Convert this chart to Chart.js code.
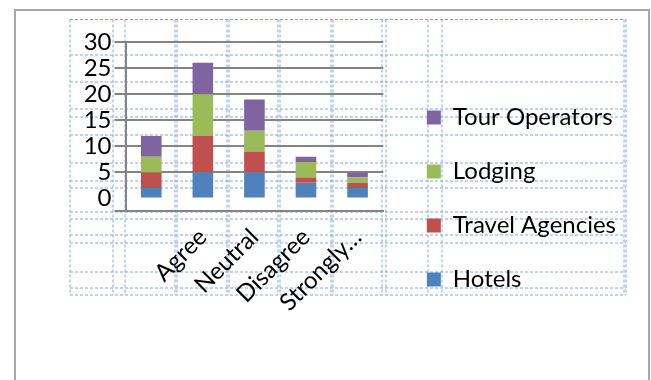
<!DOCTYPE html>
<html>
<head>
<meta charset="utf-8">
<script src="https://cdn.jsdelivr.net/npm/chart.js@4/dist/chart.umd.min.js"></script>
<style>
html,body{margin:0;padding:0;background:#fff;width:651px;height:380px;overflow:hidden;}
#wrap{position:relative;width:651px;height:380px;}
#frame{position:absolute;left:14px;top:9px;width:636px;height:380px;border:2px solid #a8a8a8;border-bottom:none;box-sizing:border-box;}
#table{position:absolute;left:0;top:0;}
#c{position:absolute;left:0;top:0;}
</style>
</head>
<body>
<div id="wrap">
  <div id="frame"></div>
  <svg id="table" width="651" height="380"></svg>
  <canvas id="c" width="651" height="380"></canvas>
</div>
<script>
// ---- data ----
const categories = ['Strongly Agree', 'Agree', 'Neutral', 'Disagree', 'Strongly Disagree'];
const tickLabels = ['', 'Agree', 'Neutral', 'Disagree', 'Strongly\u2026'];
const hotels = [2, 5, 5, 3, 2];
const travelAgencies = [3, 7, 4, 1, 1];
const lodging = [3, 8, 4, 3, 1];
const tourOperators = [4, 6, 6, 1, 1];
const yTickValues = [0, 5, 10, 15, 20, 25, 30];

// ---- decorative document table gridlines (not chart data) ----
const tableRows = [19.5, 55, 82, 109, 117, 135, 163, 181, 188, 212, 219, 235, 243, 272, 288, 295];
const tableCols = [70, 113, 125, 175, 177, 227, 229, 278, 280, 331, 333, 382, 386, 428, 442, 624, 626];
const svg = document.getElementById('table');
const NS = 'http://www.w3.org/2000/svg';
function addLine(x1, y1, x2, y2) {
  const l = document.createElementNS(NS, 'line');
  l.setAttribute('x1', x1); l.setAttribute('y1', y1);
  l.setAttribute('x2', x2); l.setAttribute('y2', y2);
  l.setAttribute('stroke', '#7fa8e8');
  l.setAttribute('stroke-width', '1');
  l.setAttribute('stroke-dasharray', '3,2');
  svg.appendChild(l);
}
tableRows.forEach(y => addLine(70, y, 626, y));
tableCols.forEach(x => addLine(x, 19.5, x, 295));

// ---- chart ----
const GRID = '#848484';
const Y_FONT = {family: 'Lato', size: 24};
const X_FONT = {family: 'Lato', size: 24};
const L_FONT = {family: 'Lato', size: 24};

function draw() {
  new Chart(document.getElementById('c'), {
    type: 'bar',
    data: {
      labels: categories,
      datasets: [
        {label: 'Hotels', data: hotels, backgroundColor: '#4f81bd'},
        {label: 'Travel Agencies', data: travelAgencies, backgroundColor: '#c0504d'},
        {label: 'Lodging', data: lodging, backgroundColor: '#9bbb59'},
        {label: 'Tour Operators', data: tourOperators, backgroundColor: '#8064a2'}
      ]
    },
    options: {
      responsive: false,
      animation: false,
      devicePixelRatio: 1,
      datasets: {bar: {barPercentage: 0.4, categoryPercentage: 1.0, borderWidth: 0}},
      layout: {padding: {left: 0, top: 42, right: 25, bottom: 25}},
      plugins: {
        tooltip: {enabled: false},
        legend: {
          position: 'right',
          reverse: true,
          maxWidth: 400,
          labels: {boxWidth: 14, boxHeight: 14, padding: 30, font: L_FONT, color: '#000'}
        }
      },
      scales: {
        x: {
          stacked: true,
          grid: {display: false},
          border: {display: true, color: GRID, width: 2},
          ticks: {
            autoSkip: false, minRotation: 45, maxRotation: 45, padding: 4,
            font: X_FONT, color: '#000',
            callback: (v, i) => tickLabels[i]
          },
          afterFit: s => { s.height = 144; }
        },
        y: {
          stacked: true,
          min: -2.4,
          max: 30,
          afterBuildTicks: s => { s.ticks = [{value: -2.4}].concat(yTickValues.map(v => ({value: v}))); },
          grid: {
            color: ctx => (ctx.tick && ctx.tick.value === 0) ? 'rgba(0,0,0,0)' : GRID,
            lineWidth: 2, tickLength: 11
          },
          border: {display: true, color: GRID, width: 2},
          ticks: {
            autoSkip: false, padding: 3, font: Y_FONT, color: '#000',
            callback: v => (v < 0 ? '' : v)
          },
          afterFit: s => { s.width = 125.5; }
        },
        gap: {
          type: 'linear', position: 'right', display: true,
          grid: {display: false, drawTicks: false},
          border: {display: false},
          ticks: {display: false},
          afterFit: s => { s.width = 13.5; }
        }
      }
    }
  });
}
if (document.fonts && document.fonts.load) {
  document.fonts.load('24px Lato').then(draw, draw);
} else { draw(); }
</script>
</body>
</html>
